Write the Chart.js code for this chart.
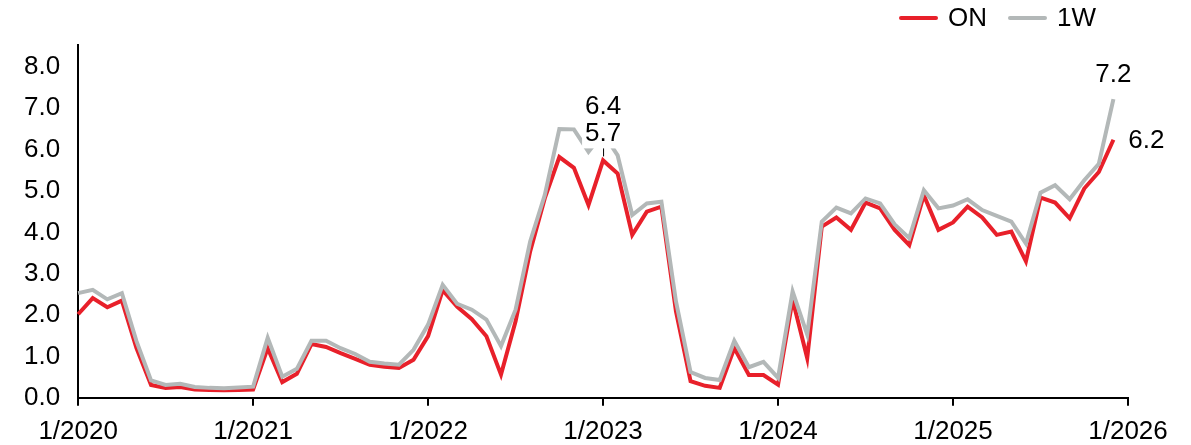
<!DOCTYPE html>
<html>
<head>
<meta charset="utf-8">
<script src="https://cdn.jsdelivr.net/npm/chart.js@4/dist/chart.umd.min.js"></script>
<style>
html,body{margin:0;padding:0;background:#fff;}
#wrap{width:1191px;height:445px;position:relative;}
</style>
</head>
<body>
<div id="wrap"><canvas id="c" width="1191" height="445"></canvas></div>
<script>
// Year tick labels (x axis, one per January)
const yearTicks = ['1/2020','1/2021','1/2022','1/2023','1/2024','1/2025','1/2026'];
// Series names
const seriesNames = ['ON', '1W'];
// Overnight rate, monthly Jan 2020 - Dec 2025
const onRate = [
  2.02, 2.41, 2.19, 2.35, 1.20, 0.31, 0.24, 0.26, 0.20, 0.19, 0.18, 0.19,
  0.20, 1.20, 0.38, 0.58, 1.30, 1.23, 1.08, 0.94, 0.80, 0.75, 0.72, 0.92,
  1.49, 2.60, 2.20, 1.90, 1.49, 0.56, 1.85, 3.54, 4.82, 5.82, 5.56, 4.66,
  5.74, 5.42, 3.94, 4.50, 4.62, 2.09, 0.40, 0.29, 0.24, 1.20, 0.55, 0.55,
  0.32, 2.37, 0.96, 4.14, 4.36, 4.06, 4.72, 4.58, 4.06, 3.69, 4.90, 4.06,
  4.24, 4.62, 4.36, 3.94, 4.02, 3.30, 4.84, 4.72, 4.34, 5.06, 5.46, 6.24
];
// One-week rate, monthly Jan 2020 - Dec 2025
const oneWeek = [
  2.53, 2.61, 2.38, 2.53, 1.37, 0.42, 0.31, 0.34, 0.26, 0.24, 0.23, 0.25,
  0.27, 1.45, 0.51, 0.70, 1.38, 1.38, 1.20, 1.06, 0.87, 0.83, 0.80, 1.16,
  1.77, 2.73, 2.27, 2.13, 1.89, 1.25, 2.13, 3.78, 4.90, 6.50, 6.49, 5.95,
  6.40, 5.86, 4.42, 4.70, 4.74, 2.33, 0.62, 0.48, 0.43, 1.38, 0.74, 0.87,
  0.48, 2.57, 1.53, 4.26, 4.60, 4.46, 4.82, 4.70, 4.19, 3.86, 5.02, 4.58,
  4.65, 4.80, 4.54, 4.40, 4.26, 3.73, 4.96, 5.14, 4.80, 5.26, 5.66, 7.22
];
// Index of the month whose values are annotated mid-chart (Jan 2023)
const annotatedIndex = 36;

const colors = ['#e8202a', '#b3b8b8'];
const FONT = '"Liberation Sans", Arial, Helvetica, sans-serif';
const FS = 26;

const toPoints = arr => arr.map((v, i) => ({x: i, y: v}));

const annotationPlugin = {
  id: 'annotations',
  afterDatasetsDraw(chart) {
    const {ctx, scales: {x, y}} = chart;
    ctx.save();
    ctx.font = FS + 'px ' + FONT;
    ctx.textAlign = 'center';
    ctx.textBaseline = 'middle';
    const i = annotatedIndex;
    const px = x.getPixelForValue(i);
    const pOn = y.getPixelForValue(onRate[i]);
    ctx.fillStyle = '#fff';
    ctx.fillRect(px - 21, pOn - 67, 42, 55);
    ctx.strokeStyle = '#000';
    ctx.lineWidth = 1;
    ctx.beginPath();
    ctx.moveTo(px + 0.5, pOn - 12);
    ctx.lineTo(px + 0.5, pOn - 4);
    ctx.stroke();
    ctx.fillStyle = '#000';
    ctx.fillText(oneWeek[i].toFixed(1), px, pOn - 54);
    ctx.fillText(onRate[i].toFixed(1), px, pOn - 27);
    const last = onRate.length - 1;
    const lx = x.getPixelForValue(last);
    ctx.fillText(oneWeek[last].toFixed(1), lx, y.getPixelForValue(oneWeek[last]) - 24);
    ctx.fillText(onRate[last].toFixed(1), lx + 33, y.getPixelForValue(onRate[last]) + 1);
    ctx.restore();
  },
  afterDraw(chart) {
    const {ctx} = chart;
    ctx.save();
    ctx.font = FS + 'px ' + FONT;
    ctx.textAlign = 'left';
    ctx.textBaseline = 'middle';
    let xPos = 900;
    const yPos = 19;
    chart.data.datasets.forEach((ds) => {
      ctx.strokeStyle = ds.borderColor;
      ctx.lineWidth = 4;
      ctx.lineCap = 'round';
      ctx.beginPath();
      ctx.moveTo(xPos + 1, yPos - 1);
      ctx.lineTo(xPos + 36, yPos - 1);
      ctx.stroke();
      ctx.fillStyle = '#000';
      ctx.fillText(ds.label, xPos + 48, yPos);
      xPos += 48 + ctx.measureText(ds.label).width + 22;
    });
    ctx.restore();
  }
};

new Chart(document.getElementById('c'), {
  type: 'line',
  data: {
    datasets: [
      {label: seriesNames[0], data: toPoints(onRate), borderColor: colors[0], backgroundColor: colors[0], order: 1},
      {label: seriesNames[1], data: toPoints(oneWeek), borderColor: colors[1], backgroundColor: colors[1], order: 0}
    ]
  },
  options: {
    responsive: false,
    animation: false,
    devicePixelRatio: 1,
    layout: {padding: {top: 45, left: 6, right: 63, bottom: -12}},
    elements: {
      line: {borderWidth: 4, tension: 0, borderJoinStyle: 'miter', fill: false},
      point: {radius: 0, hoverRadius: 0}
    },
    datasets: {line: {clip: false}},
    plugins: {legend: {display: false}, tooltip: {enabled: false}},
    scales: {
      x: {
        type: 'linear',
        min: 0,
        max: 72,
        afterBuildTicks: (scale) => {
          scale.ticks = yearTicks.map((t, k) => ({value: k * 12}));
        },
        ticks: {
          autoSkip: false,
          maxRotation: 0,
          padding: 10,
          color: '#000',
          font: {family: FONT, size: FS},
          callback: (v) => yearTicks[Math.round(v / 12)]
        },
        grid: {display: true, drawOnChartArea: false, drawTicks: true, tickLength: 8, color: '#000', lineWidth: 2},
        border: {display: true, color: '#000', width: 2}
      },
      y: {
        min: 0,
        max: 8.53,
        afterBuildTicks: (scale) => {
          scale.ticks = [0,1,2,3,4,5,6,7,8].map(v => ({value: v}));
        },
        ticks: {
          padding: 18,
          color: '#000',
          font: {family: FONT, size: FS},
          callback: (v) => Number(v).toFixed(1)
        },
        grid: {display: false, drawTicks: false},
        border: {display: true, color: '#000', width: 2}
      }
    }
  },
  plugins: [annotationPlugin]
});
</script>
</body>
</html>
